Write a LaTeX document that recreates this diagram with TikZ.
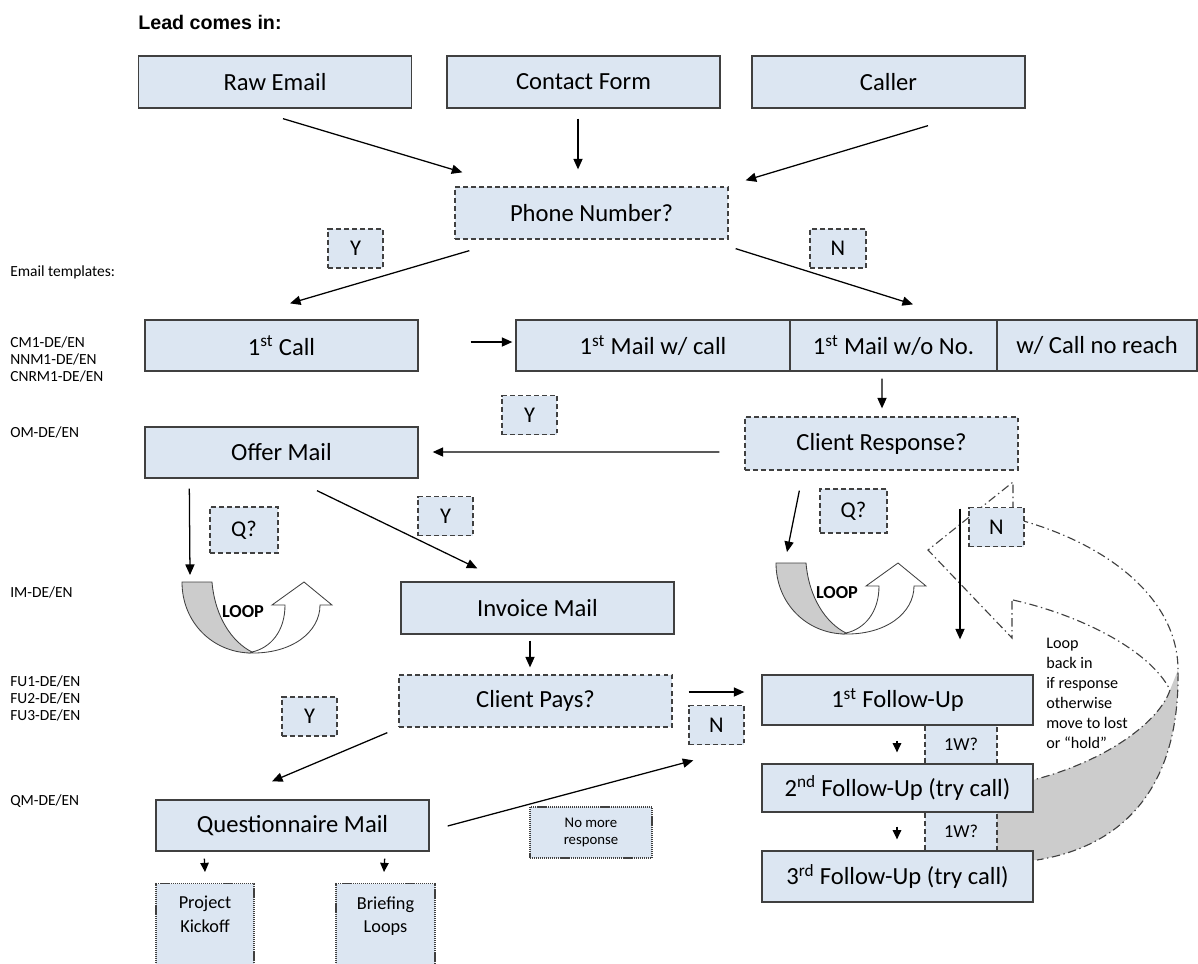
\documentclass[tikz,border=0pt]{standalone}
\usepackage{fontspec}
\setmainfont{Carlito}
\newfontfamily\headfont{Liberation Sans}
\usepackage{tikz}
\usetikzlibrary{arrows.meta, positioning, calc}
\definecolor{boxblue}{RGB}{220,230,242}
\definecolor{loopgray}{RGB}{204,204,204}
\definecolor{edgegray}{RGB}{64,64,64}

\tikzset{
  loopsym/.pic={
    \coordinate (-top) at (0,0);
    \draw[edgegray, fill=white, line width=0.6pt]
      (68,71) .. controls (110,72) and (138,50) .. (138,23) -- (150,23) -- (122,0)
      -- (90,23) -- (103,23) .. controls (103,50) and (88,66) .. (70,70) -- cycle;
    \draw[edgegray, fill=loopgray, line width=0.6pt]
      (0,0) -- (30,0) .. controls (33,35) and (50,60) .. (70,70)
      -- (68,71) .. controls (30,70) and (0,40) .. (0,0) -- cycle;
    \node[font=\bfseries\fontsize{13}{15}\selectfont, inner sep=0pt] (-txt) at (61,30) {LOOP};
  }
}

\begin{document}
\begin{tikzpicture}[
  x=0.025cm, y=-0.025cm,
  box/.style={rectangle, draw=edgegray, line width=0.9pt, fill=boxblue,
              minimum width=6.825cm, minimum height=1.3cm, inner sep=2pt,
              font=\fontsize{17.5}{21}\selectfont},
  qbox/.style={box, dash pattern=on 3.5pt off 2.2pt},
  tag/.style={qbox, minimum width=1.375cm, minimum height=0.975cm,
              font=\fontsize{16}{19}\selectfont},
  wtag/.style={tag, minimum width=1.8cm, font=\fontsize{13}{15}\selectfont},
  dotbox/.style={box, line width=0.8pt, dash pattern=on 0.8pt off 0.6pt},
  lbl/.style={anchor=north, align=center, yshift=-6pt,
              font=\fontsize{13}{16.5}\selectfont},
  tpl/.style={anchor=west, align=left, inner sep=0pt,
              font=\fontsize{11}{12.1}\selectfont},
  arr/.style={-{Triangle[length=7.5pt, width=6.5pt]}, line width=0.9pt},
  smallarr/.style={-{Triangle[length=6.5pt, width=6pt]}, line width=0.9pt},
  ddline/.style={edgegray, line width=0.8pt,
                 dash pattern=on 6pt off 2.5pt on 1pt off 2.5pt},
]
  \useasboundingbox (0,0) rectangle (1198,963);

  % big loop-back arrow behind the follow-ups
  \fill[loopgray] (1170,690) -- (1178,670) .. controls (1180,780) and (1130,845) .. (1037,860)
    -- (995,862) -- (995,785) -- (1033,780) .. controls (1110,760) and (1160,720) .. (1170,690) -- cycle;
  \draw[ddline] (1020,520) .. controls (1110,545) and (1178,600) .. (1178,670)
    .. controls (1180,780) and (1130,845) .. (1037,860);
  \draw[ddline] (1013,600) .. controls (1080,615) and (1150,650) .. (1170,690)
    .. controls (1160,720) and (1110,760) .. (1033,780);
  \draw[ddline] (1013,510) -- (1013,482) -- (928,550) -- (1012,638) -- (1012,600);

  % lead sources
  \node[font=\headfont\bfseries\fontsize{14}{16}\selectfont, anchor=west, inner sep=0pt]
    (lead) at (138,22) {Lead comes in:};
  \node[box] (raw)     at (275,82)   {Raw Email};
  \node[box] (contact) at (583.5,82) {Contact Form};
  \node[box] (caller)  at (888.5,82) {Caller};
  \node[qbox] (phone)  at (591.5,213) {Phone Number?};
  \node[tag] (yphone)  at (355.5,248.5) {Y};
  \node[tag, minimum width=1.4cm] (nphone) at (838,248.5) {N};

  % templates
  \node[tpl] (tplhead)  at (10,272) {Email templates:};
  \node[tpl] (tplcall)  at (10,359) {CM1-DE/EN\\NNM1-DE/EN\\CNRM1-DE/EN};
  \node[tpl] (tploffer) at (10,432) {OM-DE/EN};
  \node[tpl] (tplinv)   at (10,592) {IM-DE/EN};
  \node[tpl] (tplfu)    at (10,698) {FU1-DE/EN\\FU2-DE/EN\\FU3-DE/EN};
  \node[tpl] (tplquest) at (10,801) {QM-DE/EN};

  % first contact
  \node[box, minimum height=1.275cm] (call) at (281.5,345.5) {1\textsuperscript{st} Call};
  \node[box, minimum width=6.85cm, minimum height=1.275cm] (mailcall) at (653,345.5)
    {1\textsuperscript{st} Mail w/ call};
  \node[box, minimum width=5.175cm, minimum height=1.275cm] (mailno) at (893.5,345.5)
    {1\textsuperscript{st} Mail w/o No.};
  \node[box, minimum width=5cm, minimum height=1.275cm] (noreach) at (1097,345.5)
    {w/ Call no reach};

  \node[tag] (yresp) at (529.5,415) {Y};
  \node[qbox, minimum height=1.325cm] (resp) at (881.5,443.5) {Client Response?};
  \node[box, minimum height=1.275cm] (offer) at (281.5,452.5) {Offer Mail};
  \node[tag, minimum width=1.7cm, minimum height=1.15cm] (qoffer) at (244,530) {Q?};
  \node[tag] (yoffer) at (445.5,516) {Y};
  \node[tag, minimum width=1.675cm, minimum height=1.1cm] (qresp) at (853.5,511) {Q?};
  \node[tag] (nresp) at (996.5,527) {N};

  \pic (loopL) at (182,582) {loopsym};
  \pic (loopR) at (776,563) {loopsym};

  % payment
  \node[box] (invoice) at (537.5,608) {Invoice Mail};
  \node[qbox] (pays) at (535.5,701) {Client Pays?};
  \node[tag] (npays) at (716.5,725) {N};
  \node[tag] (ypays) at (309.5,716.5) {Y};
  \node[box, minimum height=1.275cm] (quest) at (292.5,825.5) {Questionnaire Mail};
  \node[dotbox, minimum width=3.05cm, minimum height=1.275cm, align=center,
        font=\fontsize{10.5}{11.5}\selectfont] (nomore) at (591,832.5) {No more\\response};
  \node[dotbox, anchor=north, minimum width=2.45cm, minimum height=2.4cm,
        label={[lbl]north:{Project\\Kickoff}}] (kickoff) at (205,883) {};
  \node[dotbox, anchor=north, minimum width=2.475cm, minimum height=2.4cm,
        label={[lbl]north:{Briefing\\Loops}}] (briefing) at (385.5,883) {};

  % follow-ups
  \node[wtag] (wone) at (961,744.5) {1W?};
  \node[wtag] (wtwo) at (961,831.5) {1W?};
  \node[box, minimum width=6.775cm, minimum height=1.25cm] (fuone) at (897.5,700)
    {1\textsuperscript{st} Follow-Up};
  \node[box, minimum width=6.775cm, minimum height=1.2cm] (futwo) at (897.5,788)
    {2\textsuperscript{nd} Follow-Up (try call)};
  \node[box, minimum width=6.775cm, minimum height=1.275cm] (futhree) at (897.5,876.5)
    {3\textsuperscript{rd} Follow-Up (try call)};
  \node[tpl, font=\fontsize{11.5}{14.2}\selectfont] (loopnote) at (1046,693)
    {Loop\\back in\\if response\\otherwise\\move to lost\\or “hold”};

  % connectors
  \draw[arr] ($(raw.south)+(8,10)$) -- ($(phone.north west)+(8,-14)$);
  \draw[arr] ($(contact.south)+(-5.5,10)$) -- ($(phone.north)+(-13.5,-17)$);
  \draw[arr] ($(caller.south)+(39.5,17)$) -- ($(phone.north east)+(17,-6)$);
  \draw[arr] ($(phone.south west)+(15,11)$) -- ($(call.north)+(8.5,-16)$);
  \draw[arr] ($(phone.south east)+(7,9)$) -- ($(mailno.north)+(19.5,-15)$);
  \draw[arr] ($(call.east)+(52,-3.5)$) -- ($(mailcall.west)+(-3,-3.5)$);
  \draw[arr] ($(mailno.south)+(-11.5,7)$) -- ($(resp.north)+(0.5,-8)$);
  \draw[arr] ($(resp.west)+(-25,8.5)$) -- ($(offer.east)+(14,-0.5)$);
  \draw[arr] ($(offer.south west)+(45,10)$) -- ($(loopL-top)+(8,-7)$);
  \draw[arr] ($(offer.south)+(35.5,12)$) -- ($(invoice.north west)+(77,-13)$);
  \draw[arr] ($(resp.south west)+(55,20)$) -- ($(loopR-top)+(11,-11)$);
  \draw[arr] ($(resp.south)+(78.5,38)$) -- ($(fuone.north)+(62.5,-35)$);
  \draw[arr] ($(invoice.south)+(-7.5,6)$) -- ($(pays.north)+(-5.5,-7)$);
  \draw[arr] ($(pays.east)+(16,-9)$) -- ($(fuone.west)+(-17,-8)$);
  \draw[arr] ($(pays.south west)+(-11,5)$) -- ($(quest.north)+(-20.5,-18)$);
  \draw[arr] ($(quest.east)+(18,0.5)$) -- ($(futwo.north west)+(-68,-3)$);
  \draw[smallarr] ($(quest.south west)+(49,7)$) -- ($(kickoff.north)+(0,-11)$);
  \draw[smallarr] ($(quest.south east)+(-45,7)$) -- ($(briefing.north)+(-1.5,-11)$);
  \draw[smallarr] ($(fuone.south)+(-0.5,15)$) -- ($(futwo.north)+(-0.5,-11)$);
  \draw[smallarr] ($(futwo.south)+(-0.5,14)$) -- ($(futhree.north)+(-0.5,-11)$);
\end{tikzpicture}
\end{document}
